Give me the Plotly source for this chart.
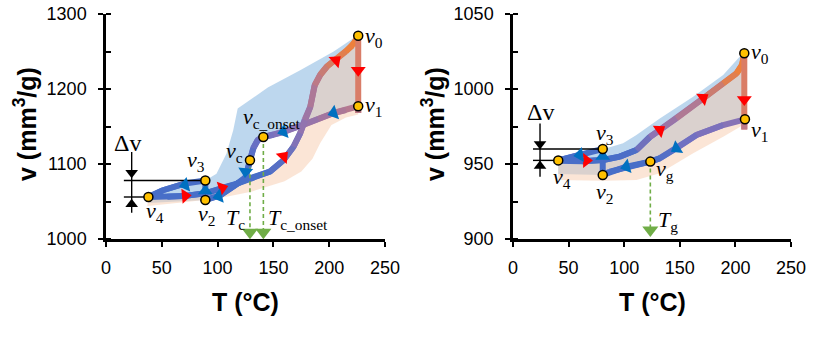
import plotly.graph_objects as go
import numpy as np

# ================= LEFT PANEL DATA (T in °C, v in mm3/g) =================
L_heat_T = [38, 55, 71, 89, 104, 116, 129, 147, 159, 168, 174, 178, 183, 187, 192, 198, 207, 215, 221, 225, 226]
L_heat_v = [1056, 1056.5, 1057.5, 1061, 1068, 1073, 1081, 1090, 1105, 1123, 1141, 1159, 1176, 1205, 1219, 1230, 1241, 1250, 1258, 1266, 1271]
L_cool_T = [226, 215, 204, 190, 175, 160, 150, 141, 136, 132, 129, 127, 125, 120, 114, 102, 89]
L_cool_v = [1177, 1172, 1168, 1160, 1151, 1143, 1139, 1136, 1132, 1121, 1105, 1093, 1082, 1076, 1070, 1058, 1052]
L_hold_T = [226, 226, 226]
L_hold_v = [1271, 1177, 1168]
L_up_T = [89, 89]
L_up_v = [1052, 1078]
L_back_T = [89, 71, 51, 38]
L_back_v = [1078, 1074, 1065, 1056]
L_env_hi_T = [99, 108, 114, 118, 145, 174, 204, 226]
L_env_hi_v = [1087, 1114, 1145, 1174, 1202, 1225, 1250, 1272]
L_env_lo_T = [37, 70, 100, 130, 160, 175, 185, 192, 202, 215, 226]
L_env_lo_v = [1044, 1049, 1054, 1063, 1077, 1090, 1107, 1128, 1152, 1162, 1166]
L_pts_T = [226, 226, 141, 129, 89, 89, 38]
L_pts_v = [1271, 1177, 1136, 1105, 1078, 1052, 1056]
L_red_T = [71, 104, 159, 206, 226]
L_red_v = [1057.5, 1068, 1110, 1238, 1225]
L_red_dir = [85, 73, 43, 48, 180]
L_blue_T = [204, 159, 125, 101, 89, 71]
L_blue_v = [1168, 1143, 1090, 1057, 1064, 1072]
L_blue_dir = [252, 254, 185, 255, 0, 256]
L_green_T = [129, 141]
L_green_top = [1105, 1136]
L_green_tip = [1009, 1009]
L_dv_x = 23
L_dv_left = 16
L_dv_span = [1116, 1035]
L_dv_tri_v = [1088.5, 1046.5]

# ================= RIGHT PANEL DATA =================
R_heat_T = [40.7, 62, 81, 96, 111, 123, 132, 147, 171, 189, 201, 206, 208]
R_heat_v = [952.2, 951.8, 952.7, 954.9, 959.3, 968, 972.7, 980.4, 993.8, 1003.8, 1010.4, 1016, 1023.8]
R_cool_T = [208.6, 189, 165, 147, 132, 123.5, 102, 87, 80.7]
R_cool_v = [979.8, 976, 969.3, 960.5, 953.8, 951.6, 948.2, 944.9, 942.7]
R_hold_T = [208, 208, 208]
R_hold_v = [1023.8, 979.8, 973]
R_up_T = [80.7, 80.7]
R_up_v = [942.7, 960]
R_back_T = [80.7, 60, 40.7]
R_back_v = [960, 956, 952.4]
R_env_hi_T = [84, 99, 111, 132, 162, 189, 204, 208]
R_env_hi_v = [960.5, 963.8, 969.3, 980.4, 994.9, 1009.3, 1021.6, 1024]
R_env_lo_T = [40.7, 81, 111, 132, 162, 189, 207]
R_env_lo_v = [939.3, 938.9, 939.3, 943.8, 957.1, 968.2, 976]
R_pts_T = [208, 208.6, 123.5, 80.7, 80.7, 40.7]
R_pts_v = [1023.8, 979.8, 951.6, 960, 942.7, 952.4]
R_red_T = [66, 132, 171, 208]
R_red_v = [952.3, 972.7, 994, 993]
R_red_dir = [90, 55, 54, 180]
R_blue_T = [147, 102, 80.7, 60]
R_blue_v = [960.5, 948.2, 955, 956]
R_blue_dir = [238, 255, 0, 262]
R_green_T = [123.5]
R_green_top = [951.6]
R_green_tip = [906]
R_dv_x = 24.3
R_dv_left = 18
R_dv_span = [977, 941.5]
R_dv_tri_v = [963.3, 948.7]

# ================= STYLE =================
W, H = 821, 338
XDOM_L = [106 / W, 385 / W]
XDOM_R = [513 / W, 791 / W]
YDOM = [99 / H, 324 / H]
BLUE = (72, 110, 200)
PURPLE = (140, 115, 180)
MAUVE = (185, 122, 140)
ORANGE = (237, 128, 60)
LW = 6

fig = go.Figure()


def lerp(stops, t):
    for (t0, c0), (t1, c1) in zip(stops[:-1], stops[1:]):
        if t <= t1:
            f = 0 if t1 == t0 else (t - t0) / (t1 - t0)
            f = min(max(f, 0), 1)
            return 'rgb(%d,%d,%d)' % tuple(int(round(a + (b - a) * f)) for a, b in zip(c0, c1))
    return 'rgb(%d,%d,%d)' % stops[-1][1]


def grad_line(xs, ys, stops, xa, ya, sx, sy):
    xs = np.asarray(xs, float); ys = np.asarray(ys, float)
    d = np.hypot(np.diff(xs) * sx, np.diff(ys) * sy)
    cum = np.concatenate([[0], np.cumsum(d)]) / max(d.sum(), 1e-9)
    n = len(xs)
    for i in range(n - 1):
        j = min(i + 3, n)
        t = 0.5 * (cum[i] + cum[i + 1])
        fig.add_trace(go.Scatter(x=xs[i:j], y=ys[i:j], mode='lines', xaxis=xa, yaxis=ya,
                                 line=dict(color=lerp(stops, t), width=LW), hoverinfo='skip'))


def panel(xa, ya, sx, sy, heat, cool, hold, up, back, env_hi, env_lo, pts,
          red, blue, green, dv, heat_stops, cool_stops):
    hT, hv = heat; cT, cv = cool
    # blue band (above cooling path)
    bx = list(back[0][::-1]) + list(env_hi[0]) + [hold[0][1]] + list(cT[1:]) + [back[0][-1]]
    by = list(back[1][::-1]) + list(env_hi[1]) + [hold[1][1]] + list(cv[1:]) + [env_lo[1][0] + 4]
    fig.add_trace(go.Scatter(x=bx, y=by, fill='toself', mode='lines', line=dict(width=0),
                             fillcolor='rgba(123,175,221,0.5)', xaxis=xa, yaxis=ya, hoverinfo='skip'))
    # peach band (below heating path)
    px_ = list(hT) + [hold[0][2]] + list(env_lo[0][::-1])
    py_ = list(hv) + [hold[1][2]] + list(env_lo[1][::-1])
    fig.add_trace(go.Scatter(x=px_, y=py_, fill='toself', mode='lines', line=dict(width=0),
                             fillcolor='rgba(247,203,173,0.5)', xaxis=xa, yaxis=ya, hoverinfo='skip'))
    # paths
    grad_line(back[0], back[1], [(0, BLUE), (1, BLUE)], xa, ya, sx, sy)
    grad_line(up[0], up[1], [(0, BLUE), (1, BLUE)], xa, ya, sx, sy)
    grad_line(cT, cv, cool_stops, xa, ya, sx, sy)
    grad_line(hT, hv, heat_stops, xa, ya, sx, sy)
    grad_line(hold[0], hold[1], [(0, ORANGE), (0.4, (220, 125, 100)), (1, MAUVE)], xa, ya, sx, sy)
    # green dashed guides
    for gx, gt, gb in zip(*green):
        fig.add_trace(go.Scatter(x=[gx, gx], y=[gt, gb], mode='lines', xaxis=xa, yaxis=ya,
                                 line=dict(color='#70AD47', width=1.6, dash='4px,3px'), hoverinfo='skip'))
    fig.add_trace(go.Scatter(x=green[0], y=green[2], mode='markers', xaxis=xa, yaxis=ya,
                             marker=dict(symbol='triangle-down', size=14, color='#70AD47'), hoverinfo='skip'))
    # delta v indicator
    dvx, dvl, span, tri = dv
    v3T, v3v = back[0][0], back[1][0]
    v4T, v4v = back[0][-1], back[1][-1]
    for xx, yy in [([dvl, v3T], [v3v, v3v]), ([dvl, v4T], [v4v, v4v]), ([dvx, dvx], span)]:
        fig.add_trace(go.Scatter(x=xx, y=yy, mode='lines', xaxis=xa, yaxis=ya,
                                 line=dict(color='black', width=1.4), hoverinfo='skip'))
    fig.add_trace(go.Scatter(x=[dvx, dvx], y=tri, mode='markers', xaxis=xa, yaxis=ya,
                             marker=dict(symbol=['triangle-down', 'triangle-up'], size=11, color='black'),
                             hoverinfo='skip'))
    # direction arrows
    for (ax_, ay_, ad_), col in [(red, '#FF0000'), (blue, '#0070C0')]:
        fig.add_trace(go.Scatter(x=ax_, y=ay_, mode='markers', xaxis=xa, yaxis=ya,
                                 marker=dict(symbol='triangle-up', size=13, color=col, angle=ad_),
                                 hoverinfo='skip'))
    # state points
    fig.add_trace(go.Scatter(x=pts[0], y=pts[1], mode='markers', xaxis=xa, yaxis=ya,
                             marker=dict(size=9, color='#FFC000', line=dict(color='black', width=1.5)),
                             hoverinfo='skip'))


sxL = (385 - 106) / 250; syL = 225 / 300
sxR = (791 - 513) / 250; syR = 225 / 150

panel('x', 'y', sxL, syL, (L_heat_T, L_heat_v), (L_cool_T, L_cool_v), (L_hold_T, L_hold_v),
      (L_up_T, L_up_v), (L_back_T, L_back_v), (L_env_hi_T, L_env_hi_v), (L_env_lo_T, L_env_lo_v),
      (L_pts_T, L_pts_v), (L_red_T, L_red_v, L_red_dir), (L_blue_T, L_blue_v, L_blue_dir),
      (L_green_T, L_green_top, L_green_tip), (L_dv_x, L_dv_left, L_dv_span, L_dv_tri_v),
      [(0, BLUE), (0.42, BLUE), (0.6, PURPLE), (0.78, MAUVE), (0.95, ORANGE), (1, ORANGE)],
      [(0, MAUVE), (0.35, PURPLE), (0.55, (110, 112, 195)), (0.7, BLUE), (1, BLUE)])

panel('x2', 'y2', sxR, syR, (R_heat_T, R_heat_v), (R_cool_T, R_cool_v), (R_hold_T, R_hold_v),
      (R_up_T, R_up_v), (R_back_T, R_back_v), (R_env_hi_T, R_env_hi_v), (R_env_lo_T, R_env_lo_v),
      (R_pts_T, R_pts_v), (R_red_T, R_red_v, R_red_dir), (R_blue_T, R_blue_v, R_blue_dir),
      (R_green_T, R_green_top, R_green_tip), (R_dv_x, R_dv_left, R_dv_span, R_dv_tri_v),
      [(0, BLUE), (0.3, BLUE), (0.45, PURPLE), (0.7, MAUVE), (0.92, ORANGE), (1, ORANGE)],
      [(0, PURPLE), (0.45, (110, 112, 195)), (0.6, BLUE), (1, BLUE)])

# ================= AXES =================
TICKFONT = dict(family='Arial, Liberation Sans', size=18, color='black')
xcommon = dict(range=[0, 250], tickvals=[0, 50, 100, 150, 200, 250], ticks='outside', ticklen=5,
               tickwidth=2, tickcolor='black', showline=True, linewidth=2.5, linecolor='black',
               showgrid=False, zeroline=False, tickfont=TICKFONT, ticklabelstandoff=6, automargin=False)
ycommon = dict(ticks='outside', ticklen=5, tickwidth=2, tickcolor='black', showline=True,
               linewidth=2.5, linecolor='black', showgrid=False, zeroline=False, tickfont=TICKFONT,
               ticklabelstandoff=8, domain=YDOM, automargin=False)
fig.update_layout(
    xaxis=dict(xcommon, domain=XDOM_L, anchor='y'),
    yaxis=dict(ycommon, range=[1000, 1300], dtick=100, anchor='x',
               minor=dict(ticks='inside', dtick=50, ticklen=5, tickwidth=2, tickcolor='black', showgrid=False)),
    xaxis2=dict(xcommon, domain=XDOM_R, anchor='y2'),
    yaxis2=dict(ycommon, range=[900, 1050], dtick=50, anchor='x2',
                minor=dict(ticks='inside', dtick=25, ticklen=5, tickwidth=2, tickcolor='black', showgrid=False)),
)

# ================= TEXT =================
SERIF = dict(family='Times New Roman, Liberation Serif', size=22, color='black')
SERIF_DV = dict(family='Times New Roman, Liberation Serif', size=24, color='black')
TITLE = dict(family='Arial, Liberation Sans', size=25, color='black')


def lab(xa, ya, x, y, text, xanchor='center', font=SERIF):
    fig.add_annotation(x=x, y=y, xref=xa, yref=ya, text=text, showarrow=False, font=font,
                       xanchor=xanchor, yanchor='middle')


def sub(main, s):
    return '<i>%s</i><sub>%s</sub>' % (main, s)


lab('x', 'y', 230, 1270, sub('v', '0'), 'left')
lab('x', 'y', 230, 1177, sub('v', '1'), 'left')
lab('x', 'y', 121, 1161, sub('v', 'c_onset'), 'left')
lab('x', 'y', 106, 1116, sub('v', 'c'), 'left')
lab('x', 'y', 81, 1104, sub('v', '3'))
lab('x', 'y', 90, 1032, sub('v', '2'))
lab('x', 'y', 44, 1036, sub('v', '4'))
lab('x', 'y', 19, 1128, 'Δv', font=SERIF_DV)
lab('x', 'y', 116, 1027, sub('T', 'c'))
lab('x', 'y', 143, 1027, sub('T', 'c_onset'), 'left')

lab('x2', 'y2', 212, 1024, sub('v', '0'), 'left')
lab('x2', 'y2', 212, 972, sub('v', '1'), 'left')
lab('x2', 'y2', 83, 970, sub('v', '3'))
lab('x2', 'y2', 82, 931, sub('v', '2'))
lab('x2', 'y2', 44, 941, sub('v', '4'))
lab('x2', 'y2', 127, 946, sub('v', 'g'), 'left')
lab('x2', 'y2', 25, 985, 'Δv', font=SERIF_DV)
lab('x2', 'y2', 129, 912, sub('T', 'g'), 'left')

for xd, ytx in [(XDOM_L, 25 / W), (XDOM_R, 433 / W)]:
    fig.add_annotation(x=(xd[0] + xd[1]) / 2, y=(H - 302) / H, xref='paper', yref='paper',
                       text='<b>T (°C)</b>', showarrow=False, font=TITLE, xanchor='center', yanchor='middle')
    fig.add_annotation(x=ytx, y=(H - 124) / H, xref='paper', yref='paper', textangle=-90,
                       text='<b>v (mm<sup>3</sup>/g)</b>', showarrow=False, font=TITLE,
                       xanchor='center', yanchor='middle')

fig.update_layout(width=W, height=H, margin=dict(l=0, r=0, t=0, b=0, autoexpand=False), showlegend=False,
                  plot_bgcolor='white', paper_bgcolor='white')
fig.write_html('out.html')
